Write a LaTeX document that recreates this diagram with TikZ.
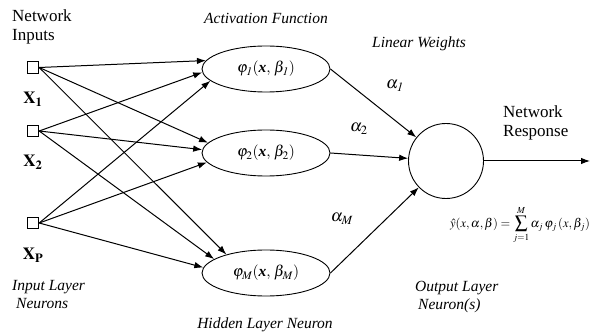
\documentclass[tikz,border=0pt]{standalone}
\usepackage{mathptmx}
\usepackage{amsmath}
\usepackage[no-math]{fontspec}
\setmainfont{Liberation Serif}
\usetikzlibrary{arrows.meta,shapes.geometric}

\begin{document}
\begin{tikzpicture}[x=1pt,y=-1pt,
  inbox/.style={draw, rectangle, minimum size=11.5pt, inner sep=0pt, line width=0.9pt},
  neuron/.style={draw, ellipse, minimum width=128pt, minimum height=46pt, inner sep=0pt, line width=0.9pt,
                 font=\fontsize{15.5}{18}\selectfont},
  outcell/.style={draw, circle, minimum size=75pt, inner sep=0pt, line width=0.9pt},
  wire/.style={line width=1pt, -{Latex[length=9pt,width=6.5pt]}},
  lbl/.style={font=\fontsize{17}{18.5}\selectfont, inner sep=0pt},
  xlbl/.style={font=\fontsize{17}{20}\selectfont, inner sep=0pt},
  ilbl/.style={font=\fontsize{15.5}{18}\selectfont\itshape, inner sep=0pt},
  wlbl/.style={font=\fontsize{17}{20}\selectfont, inner sep=0pt}
]
\useasboundingbox (0,0) rectangle (593,336);

% input layer
\node[inbox] (in1) at (33,67.5) {};
\node[inbox] (in2) at (33,131) {};
\node[inbox] (inP) at (33,223) {};
\node[xlbl] (x1) at (33,99) {$\mathbf{X}_{\mathbf{1}}$};
\node[xlbl] (x2) at (33,162) {$\mathbf{X}_{\mathbf{2}}$};
\node[xlbl] (xP) at (33,255) {$\mathbf{X}_{\mathbf{P}}$};

% hidden layer
\node[neuron] (phi1) at (266,69) {$\varphi_{\mathit{1}}(\textbf{\textit{x}},\,\beta_{\mathit{1}})$};
\node[neuron] (phi2) at (266,153) {$\varphi_{2}(\textbf{\textit{x}},\,\beta_{2})$};
\node[neuron] (phiM) at (266,273) {$\varphi_{M}(\textbf{\textit{x}},\,\beta_{M})$};

% output layer
\node[outcell] (out) at (446,161) {};
\coordinate (resp) at (590,161);

% input -> hidden connections
\draw[wire] (in1.east) -- (phi1.172);
\draw[wire] (in1.east) -- (phi2.170);
\draw[wire] (in1.east) -- (phiM.155);
\draw[wire] (in2.east) -- (phi1.183);
\draw[wire] (in2.east) -- (phi2.177);
\draw[wire] (in2.east) -- (phiM.165);
\draw[wire] (inP.east) -- (phi1.192);
\draw[wire] (inP.east) -- (phi2.189);
\draw[wire] (inP.east) -- (phiM.175);

% hidden -> output connections
\draw[wire] (phi1.east) -- (out);
\draw[wire] (phi2.east) -- (out);
\draw[wire] (phiM.east) -- (out);
\draw[wire] (out.east) -- (resp);

% weights
\node[wlbl] (a1) at (395,86) {$\alpha_{\mathit{1}}$};
\node[wlbl] (a2) at (359,129) {$\alpha_{2}$};
\node[wlbl] (aM) at (342,219) {$\alpha_{M}$};

% captions
\node[lbl, align=left, anchor=north west] (netin) at (12,10) {Network\\Inputs};
\node[ilbl, align=left, anchor=north west] (inlay) at (12,280) {Input Layer\\\hspace*{4pt}Neurons};
\node[ilbl] (act) at (266,18) {Activation Function};
\node[ilbl] (lin) at (419,44) {Linear Weights};
\node[ilbl] (hid) at (265,325) {Hidden Layer Neuron};
\node[lbl, align=left, anchor=north west] (netout) at (503,106) {Network\\Response};
\node[ilbl, align=left, anchor=north west] (outlay) at (415,281) {Output Layer\\\hspace*{3pt}Neuron(s)};
\node[inner sep=0pt, font=\fontsize{12.5}{15}\selectfont] (formula) at (520,225)
  {$\displaystyle \hat{y}(x,\alpha,\beta) = \sum_{j=1}^{M} \alpha_j\,\varphi_j\,(x,\beta_j)$};
\end{tikzpicture}
\end{document}
